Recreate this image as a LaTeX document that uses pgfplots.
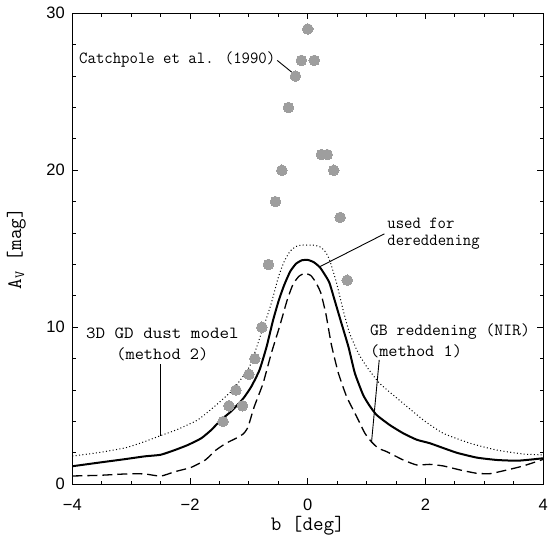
\documentclass[border=0pt]{standalone}
\usepackage{fontspec}
\usepackage{graphicx}
\usepackage{pgfplots}
\pgfplotsset{compat=1.18}
\newfontfamily\tickfont{Liberation Sans}
\definecolor{markgray}{RGB}{158,158,158}
\newcommand{\sx}[2]{\scalebox{#1}[1]{#2}}
\newcommand{\annfont}{\ttfamily\fontsize{17}{17}\selectfont}
\newcommand{\labfont}{\ttfamily\fontsize{20.5}{22}\selectfont}
\begin{document}
\begin{tikzpicture}
\useasboundingbox (-72.3pt,-63.7pt) rectangle (475.7pt,484.3pt);
\begin{axis}[
  name=ax,
  scale only axis, width=471pt, height=471pt,
  xmin=-4, xmax=4, ymin=0, ymax=30,
  xtick={-4,-2,0,2,4}, xticklabels={−4,−2,0,2,4},
  ytick={0,10,20,30}, yticklabels={0,10,20,30},
  minor x tick num=3, minor y tick num=4,
  tick align=inside,
  major tick length=6pt, minor tick length=3.5pt,
  tick style={black, line width=1pt},
  axis line style={line width=1.2pt},
  ticklabel style={font=\tickfont\fontsize{16.5}{16.5}\selectfont},
  yticklabel style={xshift=-4pt},
  xticklabel style={yshift=-11pt},
]
\addplot[only marks, color=markgray, mark=*, mark size=5.3pt, mark options={draw=markgray, fill=markgray, line width=0pt}] coordinates {
(0,29) (-0.11,27) (0.11,27) (-0.21,26) (-0.33,24) (0.23,21) (0.33,21)
(-0.44,20) (0.44,20) (-0.55,18) (0.55,17) (-0.67,14) (0.67,13)
(-0.78,10) (-0.90,8) (-1.0,7) (-1.22,6) (-1.34,5) (-1.11,5) (-1.44,4)
};
% dashed: GB reddening (NIR), method 1
\addplot[black, line width=1.3pt, dash pattern=on 10pt off 5pt, smooth, tension=0.3] coordinates {
(-4.00,0.53) (-3.55,0.57) (-3.09,0.66) (-2.77,0.66) (-2.50,0.52) (-2.26,0.80)
(-1.98,1.08) (-1.74,1.55) (-1.56,2.18) (-1.39,2.61) (-1.22,2.93) (-1.10,3.2)
(-1.02,3.6) (-0.91,4.94) (-0.76,6.43) (-0.62,8.34) (-0.48,10.04) (-0.35,11.74)
(-0.25,12.75) (-0.15,13.25) (-0.05,13.44) (0.05,13.3) (0.13,12.9) (0.22,12.2)
(0.31,10.8) (0.40,8.9) (0.52,7.07) (0.66,5.58) (0.83,4.31) (0.97,3.25)
(1.08,2.71) (1.20,2.29) (1.34,2.08) (1.62,1.55) (1.85,1.23) (2.07,1.27)
(2.30,1.17) (2.59,0.91) (2.87,0.70) (3.10,0.68) (3.38,0.91) (3.66,1.17) (4.00,1.59)
};
% dotted: 3D GD dust model, method 2
\addplot[black, line width=1pt, dash pattern=on 1pt off 2.4pt, smooth, tension=0.3] coordinates {
(-4.00,1.80) (-3.55,2.02) (-3.09,2.33) (-2.77,2.72) (-2.50,3.10) (-2.21,3.50)
(-1.87,4.10) (-1.59,4.94) (-1.28,6.0) (-0.99,7.49) (-0.79,9.62) (-0.63,11.4)
(-0.50,13.2) (-0.40,14.2) (-0.30,14.85) (-0.20,15.15) (-0.10,15.24) (0.00,15.24)
(0.12,15.22) (0.22,15.1) (0.30,14.8) (0.37,14.29) (0.49,12.8) (0.60,11.1)
(0.71,9.62) (0.86,8.34) (1.00,7.49) (1.22,6.43) (1.59,5.25) (1.96,4.10)
(2.30,3.25) (2.76,2.61) (3.21,2.18) (3.66,1.93) (4.00,1.87)
};
% solid: used for dereddening
\addplot[black, line width=2pt, smooth, tension=0.3] coordinates {
(-4.00,1.15) (-3.55,1.38) (-3.09,1.61) (-2.77,1.78) (-2.50,1.88) (-2.26,2.18)
(-2.04,2.50) (-1.81,2.93) (-1.64,3.46) (-1.47,4.12) (-1.30,4.65) (-1.10,5.45)
(-0.96,6.22) (-0.82,7.28) (-0.70,8.76) (-0.59,10.45) (-0.49,11.75) (-0.40,12.7)
(-0.30,13.55) (-0.20,14.05) (-0.10,14.27) (0.00,14.29) (0.10,14.15) (0.21,13.8)
(0.36,12.9) (0.45,11.8) (0.56,10.4) (0.69,8.76) (0.80,7.07) (0.94,5.69)
(1.05,5.0) (1.17,4.41) (1.39,3.78) (1.62,3.25) (1.85,2.84) (2.07,2.62)
(2.19,2.46) (2.53,2.01) (2.87,1.70) (3.21,1.55) (3.55,1.50) (3.80,1.58) (4.00,1.66)
};
% annotations
\node[anchor=west, inner sep=0pt, font=\annfont] at (axis cs:-3.886,27.03) {\sx{0.96}{Catchpole et al. (1990)}};
\draw[line width=0.9pt] (axis cs:-0.52,27.0) -- (axis cs:-0.19,26.0);
\node[anchor=west, align=left, inner sep=0pt, font=\annfont] at (axis cs:1.35,15.96) {\sx{0.957}{used for}\\[-0.6pt]\sx{0.957}{dereddening}};
\draw[line width=0.9pt] (axis cs:0.204,13.86) -- (axis cs:1.30,15.95);
\node[align=center, inner sep=0pt, font=\ttfamily\fontsize{17}{21.7}\selectfont] at (axis cs:-2.47,8.91) {\sx{1.09}{3D GD dust model}\\\sx{1.05}{(method 2)}};
\draw[line width=0.9pt] (axis cs:-2.5,7.64) -- (axis cs:-2.5,3.10);
\node[anchor=west, align=left, inner sep=0pt, font=\ttfamily\fontsize{17}{20.5}\selectfont] at (axis cs:1.054,9.14) {\sx{1.015}{GB reddening (NIR)}\\\sx{1.05}{(method 1)}};
\draw[line width=0.9pt] (axis cs:1.213,7.92) -- (axis cs:1.083,2.71);
\end{axis}
\node[font=\labfont] at ([yshift=-41.5pt]ax.south) {b [deg]};
\node[font=\labfont, rotate=90] at ([xshift=-56pt]ax.west) {A\raisebox{-0.35ex}{\fontsize{14}{14}\selectfont V} [mag]};
\end{tikzpicture}
\end{document}
